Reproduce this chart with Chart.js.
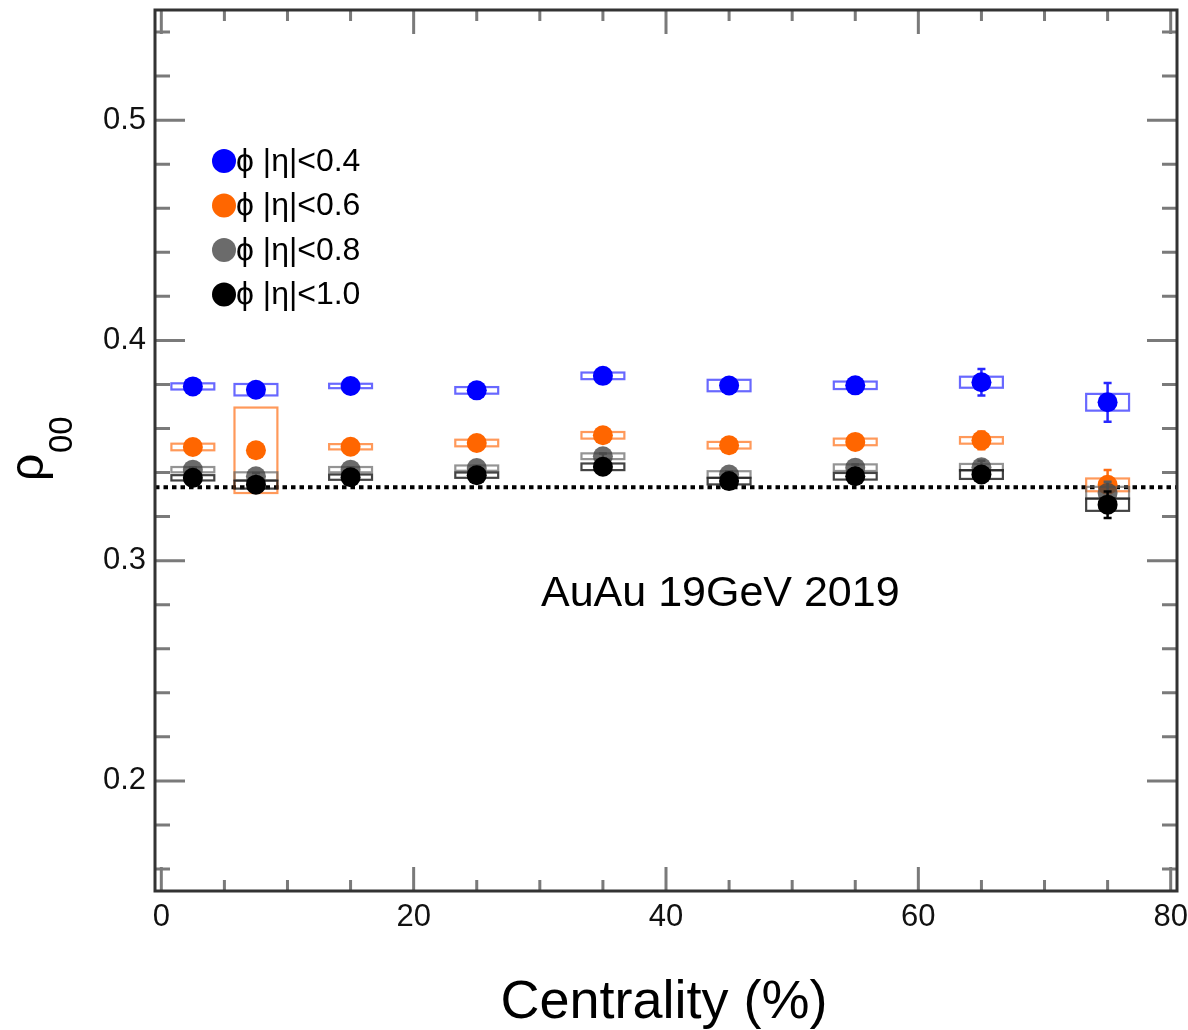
<!DOCTYPE html>
<html>
<head>
<meta charset="utf-8">
<title>rho00 vs centrality</title>
<script src="https://cdn.jsdelivr.net/npm/chart.js@4.4.0/dist/chart.umd.min.js"></script>
<style>
  html, body { margin: 0; padding: 0; background: #fff; }
  #wrap { width: 1188px; height: 1030px; }
</style>
</head>
<body>
<div id="wrap"><canvas id="rhoChart" width="1188" height="1030"></canvas></div>
<script>
// 中心度ビン (%)
const centrality = [2.5, 7.5, 15, 25, 35, 45, 55, 65, 75];

// |eta|<0.4
const rhoEta04 = [0.3791, 0.3776, 0.3793, 0.3773, 0.3839, 0.3795, 0.3796, 0.3810, 0.3719];
const statEta04 = [0.0010, 0.0015, 0.0010, 0.0010, 0.0012, 0.0015, 0.0015, 0.0060, 0.0088];
const sysEta04 = [0.0014, 0.0026, 0.0010, 0.0015, 0.0015, 0.0026, 0.0017, 0.0025, 0.0038];

// |eta|<0.6
const rhoEta06 = [0.3516, 0.3501, 0.3517, 0.3534, 0.3569, 0.3524, 0.3539, 0.3546, 0.3344];
const statEta06 = [0.0010, 0.0015, 0.0010, 0.0010, 0.0012, 0.0015, 0.0015, 0.0040, 0.0067];
const sysEta06 = [0.0015, 0.0194, 0.0012, 0.0015, 0.0015, 0.0015, 0.0015, 0.0015, 0.0029];

// |eta|<0.8
const rhoEta08 = [0.3413, 0.3383, 0.3413, 0.3420, 0.3474, 0.3391, 0.3422, 0.3424, 0.3308];
const statEta08 = [0.0010, 0.0015, 0.0010, 0.0010, 0.0012, 0.0015, 0.0015, 0.0030, 0.0050];
const sysEta08 = [0.0012, 0.0018, 0.0012, 0.0012, 0.0013, 0.0015, 0.0015, 0.0015, 0.0027];

// |eta|<1.0
const rhoEta10 = [0.3376, 0.3345, 0.3379, 0.3388, 0.3426, 0.3361, 0.3383, 0.3391, 0.3254];
const statEta10 = [0.0010, 0.0015, 0.0010, 0.0010, 0.0012, 0.0015, 0.0015, 0.0030, 0.0060];
const sysEta10 = [0.0012, 0.0018, 0.0012, 0.0012, 0.0015, 0.0015, 0.0015, 0.0020, 0.0028];

// 凡例ラベル
const seriesLabels = ["ϕ |η|<0.4", "ϕ |η|<0.6", "ϕ |η|<0.8", "ϕ |η|<1.0"];

// 軸の目盛り
const xMajorTicks = [0, 20, 40, 60, 80];
const xTickLabels = ["0", "20", "40", "60", "80"];
const yMajorTicks = [0.2, 0.3, 0.4, 0.5];
const yTickLabels = ["0.2", "0.3", "0.4", "0.5"];
const xMinorStep = 5;
const yMinorStep = 0.02;

// 1/3 の基準線
const rhoUnpolarized = 1 / 3;

// 系統誤差ボックスの半幅 (% 単位)
const sysHalfWidth = 1.7;

const FONT = '"Liberation Sans", Arial, Helvetica, sans-serif';

const colors = [
  { marker: "rgb(0, 0, 255)", box: "rgba(40, 40, 255, 0.7)", bar: "rgb(40, 40, 255)" },
  { marker: "rgb(255, 102, 0)", box: "rgba(255, 110, 20, 0.7)", bar: "rgb(255, 110, 20)" },
  { marker: "rgba(70, 70, 70, 0.8)", box: "rgba(90, 90, 90, 0.65)", bar: "rgb(90, 90, 90)" },
  { marker: "rgb(0, 0, 0)", box: "rgba(20, 20, 20, 0.8)", bar: "rgb(0, 0, 0)" },
];

const rhoSeries = [rhoEta04, rhoEta06, rhoEta08, rhoEta10];
const statSeries = [statEta04, statEta06, statEta08, statEta10];
const sysSeries = [sysEta04, sysEta06, sysEta08, sysEta10];

// 系統誤差ボックスと統計誤差バー（データセットごとに描く）
const errorPlugin = {
  id: "errorBoxes",
  beforeDatasetDraw(chart, args) {
    const i = args.index;
    const xs = chart.scales.x;
    const ys = chart.scales.y;
    const ctx = chart.ctx;
    const a = chart.chartArea;
    ctx.save();
    ctx.beginPath();
    ctx.rect(a.left, a.top, a.right - a.left, a.bottom - a.top);
    ctx.clip();
    centrality.forEach((c, j) => {
      const y = rhoSeries[i][j];
      const x0 = xs.getPixelForValue(c - sysHalfWidth);
      const x1 = xs.getPixelForValue(c + sysHalfWidth);
      const yTop = ys.getPixelForValue(y + sysSeries[i][j]);
      const yBot = ys.getPixelForValue(y - sysSeries[i][j]);
      ctx.strokeStyle = colors[i].box;
      ctx.lineWidth = 2.2;
      ctx.strokeRect(x0, yTop, x1 - x0, yBot - yTop);

      const xc = xs.getPixelForValue(c);
      const s0 = ys.getPixelForValue(y + statSeries[i][j]);
      const s1 = ys.getPixelForValue(y - statSeries[i][j]);
      ctx.strokeStyle = colors[i].bar;
      ctx.lineWidth = 2.5;
      ctx.beginPath();
      ctx.moveTo(xc, s0);
      ctx.lineTo(xc, s1);
      ctx.moveTo(xc - 4, s0);
      ctx.lineTo(xc + 4, s0);
      ctx.moveTo(xc - 4, s1);
      ctx.lineTo(xc + 4, s1);
      ctx.stroke();
    });
    ctx.restore();
  },
};

// 枠・目盛り・ラベル・凡例など
const framePlugin = {
  id: "rootFrame",
  beforeDatasetsDraw(chart) {
    const ctx = chart.ctx;
    const a = chart.chartArea;
    const yLine = chart.scales.y.getPixelForValue(rhoUnpolarized);
    ctx.save();
    ctx.strokeStyle = "#000";
    ctx.lineWidth = 4;
    ctx.setLineDash([4.5, 4]);
    ctx.beginPath();
    ctx.moveTo(a.left, yLine);
    ctx.lineTo(a.right, yLine);
    ctx.stroke();
    ctx.restore();
  },
  afterDraw(chart) {
    const ctx = chart.ctx;
    const a = chart.chartArea;
    const xs = chart.scales.x;
    const ys = chart.scales.y;
    ctx.save();

    // 目盛り（内向き、四辺）
    ctx.strokeStyle = "#7a7a7a";
    ctx.lineWidth = 3;
    ctx.beginPath();
    for (let v = 0; v <= 80 + 1e-9; v += xMinorStep) {
      const px = xs.getPixelForValue(v);
      const len = xMajorTicks.includes(Math.round(v)) ? 24 : 11;
      ctx.moveTo(px, a.bottom);
      ctx.lineTo(px, a.bottom - len);
      ctx.moveTo(px, a.top);
      ctx.lineTo(px, a.top + len);
    }
    for (let k = 8; k <= 27; k++) {
      const v = k * yMinorStep;
      const py = ys.getPixelForValue(v);
      const major = yMajorTicks.some((t) => Math.abs(t - v) < 1e-6);
      const len = major ? 30 : 15;
      ctx.moveTo(a.left, py);
      ctx.lineTo(a.left + len, py);
      ctx.moveTo(a.right, py);
      ctx.lineTo(a.right - len, py);
    }
    ctx.stroke();

    // 枠
    ctx.strokeStyle = "#333";
    ctx.lineWidth = 3;
    ctx.strokeRect(a.left, a.top, a.right - a.left, a.bottom - a.top);

    // 目盛りラベル
    ctx.fillStyle = "#111";
    ctx.font = "31px " + FONT;
    ctx.textAlign = "center";
    ctx.textBaseline = "middle";
    xMajorTicks.forEach((v, i) => {
      ctx.fillText(xTickLabels[i], xs.getPixelForValue(v), a.bottom + 26);
    });
    ctx.textAlign = "right";
    yMajorTicks.forEach((v, i) => {
      ctx.fillText(yTickLabels[i], a.left - 9, ys.getPixelForValue(v));
    });

    // x軸タイトル
    ctx.textAlign = "center";
    ctx.textBaseline = "alphabetic";
    ctx.font = "54px " + FONT;
    ctx.fillStyle = "#000";
    ctx.fillText("Centrality (%)", 664, 1018);

    // y軸タイトル ρ_00
    ctx.save();
    ctx.translate(43, 481);
    ctx.rotate(-Math.PI / 2);
    ctx.textAlign = "left";
    ctx.font = "48px " + FONT;
    ctx.fillText("ρ", 0, 0);
    ctx.font = "33px " + FONT;
    ctx.fillText("00", 28, 29);
    ctx.restore();

    // 注記
    ctx.textAlign = "left";
    ctx.font = "43px " + FONT;
    ctx.fillText("AuAu 19GeV 2019", 541, 606);

    // 凡例
    const legendY = [161, 205.5, 250, 294.5];
    ctx.font = "32px " + FONT;
    ctx.textBaseline = "middle";
    seriesLabels.forEach((label, i) => {
      ctx.fillStyle = colors[i].marker;
      ctx.beginPath();
      ctx.arc(224, legendY[i], 12, 0, Math.PI * 2);
      ctx.fill();
      ctx.fillStyle = "#000";
      ctx.fillText(label, 236, legendY[i] + 1);
    });

    ctx.restore();
  },
};

const datasets = rhoSeries.map((vals, i) => ({
  label: seriesLabels[i],
  data: centrality.map((c, j) => ({ x: c, y: vals[j] })),
  backgroundColor: colors[i].marker,
  borderWidth: 0,
  pointRadius: 10,
  pointHoverRadius: 10,
  order: 4 - i,
}));

new Chart(document.getElementById("rhoChart"), {
  type: "scatter",
  data: { datasets: datasets },
  options: {
    responsive: false,
    animation: false,
    events: [],
    layout: { padding: { left: 155, right: 11, top: 9, bottom: 139 } },
    plugins: {
      legend: { display: false },
      tooltip: { enabled: false },
    },
    scales: {
      x: { type: "linear", min: -0.5, max: 80.5, display: false },
      y: { type: "linear", min: 0.15, max: 0.55, display: false },
    },
  },
  plugins: [errorPlugin, framePlugin],
});
</script>
</body>
</html>
